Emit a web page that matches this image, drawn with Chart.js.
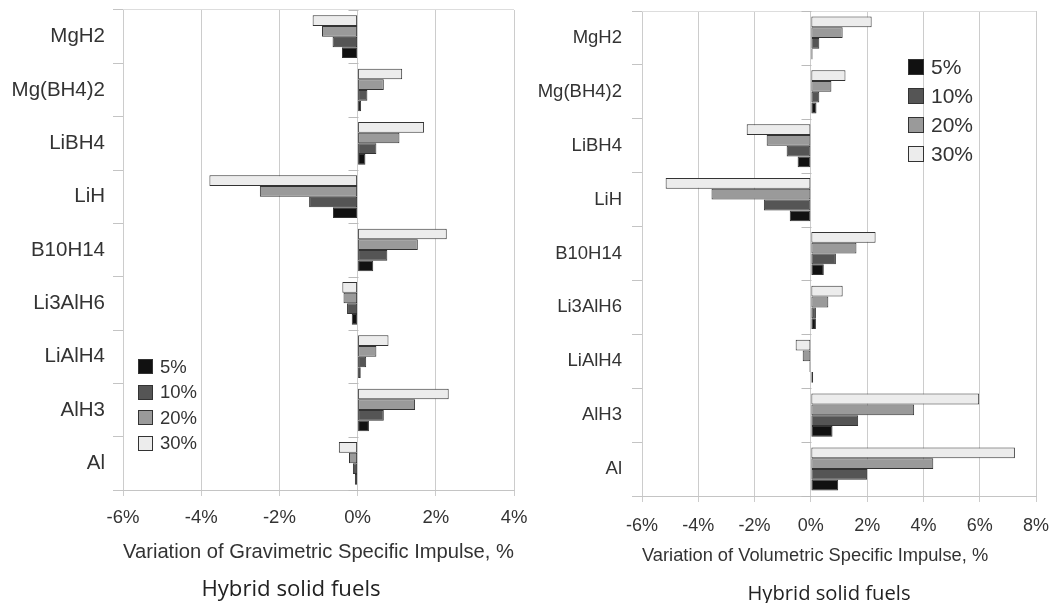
<!DOCTYPE html>
<html>
<head>
<meta charset="utf-8">
<script src="https://cdn.jsdelivr.net/npm/chart.js@4.4.1/dist/chart.umd.min.js"></script>
<style>
  body { margin: 0; background: #fff; }
  .panel { position: absolute; top: 0; height: 603px; }
  .caption { position: absolute; font-family: "Open Sans", sans-serif; color: #222; white-space: nowrap; transform: translate(-50%, -50%); }
  .legend { position: absolute; font-family: "Liberation Sans", Arial, sans-serif; color: #333; }
  .legend div { display: flex; align-items: center; }
  .legend span.box { display: inline-block; box-sizing: border-box; border: 1px solid #333; }
</style>
</head>
<body>
<div class="panel" style="left:0;width:527px"><canvas id="grav_chart" width="527" height="603"></canvas></div>
<div class="panel" style="left:527px;width:528px"><canvas id="vol_chart" width="528" height="603"></canvas></div>
<div class="caption" style="left:291px;top:587px;font-size:22.2px">Hybrid solid fuels</div>
<div class="caption" style="left:829px;top:592px;font-size:20.2px">Hybrid solid fuels</div>
<div class="legend" id="grav_legend" style="left:138px;top:354px"></div>
<div class="legend" id="vol_legend" style="left:908px;top:52px"></div>
<script>
const categories = ['MgH2', 'Mg(BH4)2', 'LiBH4', 'LiH', 'B10H14', 'Li3AlH6', 'LiAlH4', 'AlH3', 'Al'];
const loadings = ['5%', '10%', '20%', '30%'];

// variation of gravimetric specific impulse, %
const grav5  = [-0.40, 0.09, 0.20, -0.63, 0.40, -0.15, 0.08, 0.29, -0.07];
const grav10 = [-0.64, 0.25, 0.48, -1.24, 0.76, -0.27, 0.22, 0.67, -0.12];
const grav20 = [-0.91, 0.67, 1.07, -2.50, 1.54, -0.36, 0.48, 1.47, -0.22];
const grav30 = [-1.15, 1.14, 1.70, -3.79, 2.28, -0.39, 0.79, 2.33, -0.48];

// variation of volumetric specific impulse, %
const vol5  = [0.06, 0.20, -0.47, -0.75, 0.46, 0.18, 0.08, 0.77, 0.97];
const vol10 = [0.30, 0.30, -0.86, -1.67, 0.89, 0.18, -0.05, 1.68, 2.00];
const vol20 = [1.13, 0.73, -1.57, -3.53, 1.62, 0.62, -0.29, 3.67, 4.35];
const vol30 = [2.16, 1.23, -2.28, -5.16, 2.30, 1.13, -0.54, 5.98, 7.25];

const fills = ['#111111', '#555555', '#9a9a9a', '#ececec'];

// small ticks on the zero line between the groups
const zeroTicks = {
  id: 'zeroTicks',
  beforeDatasetsDraw(chart) {
    const x = chart.scales.x, y = chart.scales.y;
    const x0 = Math.round(x.getPixelForValue(0)) + 0.5;
    const ctx = chart.ctx;
    ctx.save();
    ctx.strokeStyle = '#bbbbbb';
    ctx.lineWidth = 1;
    for (let i = 0; i <= categories.length; i++) {
      const py = Math.round(y.getPixelForValue(i - 0.5)) + 0.5;
      ctx.beginPath();
      ctx.moveTo(x0 - 10, py);
      ctx.lineTo(x0, py);
      ctx.stroke();
    }
    ctx.restore();
  }
};

function makeChart(id, series, opts) {
  // 30% on top of each group, 5% at the bottom
  const datasets = [];
  for (let i = series.length - 1; i >= 0; i--) {
    datasets.push({
      label: loadings[i],
      data: series[i],
      backgroundColor: fills[i],
      borderColor: '#333333',
      borderWidth: 1,
      borderSkipped: false,
      categoryPercentage: 0.8,
      barPercentage: 1.0
    });
  }
  return new Chart(id, {
    type: 'bar',
    data: { labels: categories, datasets: datasets },
    plugins: [zeroTicks],
    options: {
      indexAxis: 'y',
      responsive: false,
      animation: false,
      layout: { padding: { top: opts.top, right: opts.right, bottom: 35, left: 0 } },
      plugins: { legend: { display: false }, tooltip: { enabled: false } },
      scales: {
        x: {
          min: opts.min, max: opts.max,
          afterFit: s => {
            s.height = opts.xHeight;
            s.paddingLeft = 0;
            s.paddingRight = 0;
          },
          ticks: {
            stepSize: 2,
            padding: opts.tickPad,
            color: '#333',
            font: { family: 'Liberation Sans', size: opts.tickSize },
            callback: v => v + '%'
          },
          grid: { color: '#cccccc', tickColor: '#cccccc', tickLength: 6 },
          border: { display: true, color: '#c4c4c4' },
          title: {
            display: true,
            text: opts.title,
            align: opts.titleAlign,
            color: '#333',
            padding: { top: 0, bottom: opts.titlePad },
            font: { family: 'Liberation Sans', size: opts.titleSize }
          }
        },
        y: {
          afterFit: s => {
            s.width = opts.yWidth;
            s.paddingTop = 0;
            s.paddingBottom = 0;
          },
          ticks: {
            padding: opts.labelPad,
            color: '#333',
            font: { family: 'Liberation Sans', size: opts.labelSize }
          },
          grid: {
            offset: true,
            tickLength: 10,
            tickColor: '#c4c4c4',
            color: c => c.index === 0 ? '#dddddd' : 'rgba(0,0,0,0)'
          },
          border: { display: false }
        }
      }
    }
  });
}

function makeLegend(id, size, box, rowGap) {
  const node = document.getElementById(id);
  let html = '';
  for (let i = 0; i < loadings.length; i++) {
    html += '<div style="height:' + rowGap + 'px;font-size:' + size + 'px">' +
      '<span class="box" style="width:' + box + 'px;height:' + box + 'px;background:' + fills[i] +
      ';margin-right:' + Math.round(box * 0.45) + 'px"></span>' + loadings[i] + '</div>';
  }
  node.innerHTML = html;
}

makeChart('grav_chart', [grav5, grav10, grav20, grav30], {
  min: -6, max: 4, top: 10, right: 13, yWidth: 123, xHeight: 78,
  tickSize: 18.5, tickPad: 11, titleSize: 20.5, titlePad: 3, titleAlign: 'center',
  labelSize: 20.5, labelPad: 8,
  title: 'Variation of Gravimetric Specific Impulse, %'
});

makeChart('vol_chart', [vol5, vol10, vol20, vol30], {
  min: -6, max: 8, top: 11, right: 19, yWidth: 115, xHeight: 72,
  tickSize: 18, tickPad: 13, titleSize: 18.3, titlePad: 1, titleAlign: 'start',
  labelSize: 18.5, labelPad: 10,
  title: 'Variation of Volumetric Specific Impulse, %'
});

makeLegend('grav_legend', 18.5, 15, 25.5);
makeLegend('vol_legend', 21, 16, 29);
</script>
</body>
</html>
